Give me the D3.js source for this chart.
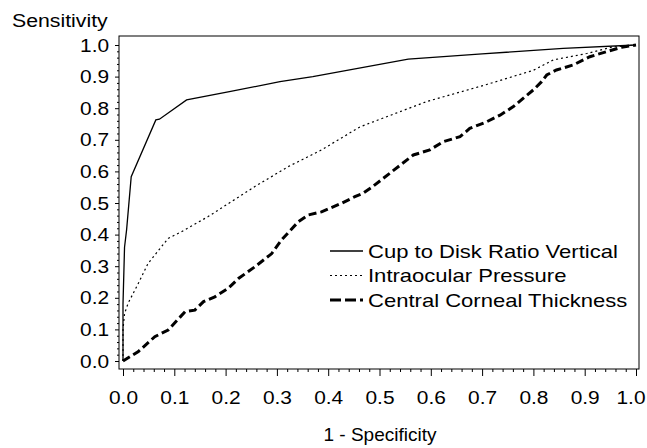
<!DOCTYPE html>
<html>
<head>
<meta charset="utf-8">
<script src="https://cdn.jsdelivr.net/npm/d3@7"></script>
<style>
  body { margin: 0; background: #fff; }
  text { font-family: "Liberation Sans", Arial, sans-serif; fill: #000; }
  .axis path { display: none; }
  .axis line { stroke: #000; stroke-width: 1; }
</style>
</head>
<body>
<div class="chart-wrapper"></div>
<script>
// ROC curves, values
const cdrFpr = [0, 0, 0.003, 0.007, 0.016, 0.064, 0.071, 0.124, 0.21, 0.306, 0.37, 0.556, 0.70, 0.858, 1.0]
const cdrTpr = [0, 0.18, 0.36, 0.415, 0.583, 0.763, 0.765, 0.826, 0.853, 0.884, 0.90, 0.955, 0.972, 0.989, 1.0]

const iopFpr = [0, 0, 0.003, 0.01, 0.03, 0.049, 0.088, 0.114, 0.166, 0.257, 0.322, 0.387, 0.462, 0.592, 0.709, 0.80, 0.839, 0.904, 0.955, 1.0]
const iopTpr = [0, 0.10, 0.15, 0.183, 0.246, 0.309, 0.388, 0.409, 0.457, 0.552, 0.615, 0.668, 0.741, 0.821, 0.875, 0.92, 0.953, 0.973, 0.994, 1.0]

const cctFpr = [0, 0.03, 0.062, 0.088, 0.121, 0.14, 0.157, 0.179, 0.205, 0.225, 0.257, 0.29, 0.309, 0.342, 0.361, 0.387, 0.426, 0.452, 0.468, 0.485, 0.52, 0.566, 0.598, 0.624, 0.657, 0.676, 0.709, 0.735, 0.761, 0.78, 0.80, 0.816, 0.826, 0.845, 0.878, 0.91, 0.943, 0.975, 1.0]
const cctTpr = [0, 0.03, 0.077, 0.098, 0.156, 0.161, 0.188, 0.203, 0.23, 0.261, 0.298, 0.34, 0.383, 0.441, 0.462, 0.472, 0.499, 0.52, 0.531, 0.55, 0.594, 0.652, 0.668, 0.694, 0.71, 0.736, 0.757, 0.778, 0.805, 0.831, 0.858, 0.884, 0.905, 0.921, 0.937, 0.963, 0.979, 0.994, 1.0]

const seriesNames = ['Cup to Disk Ratio Vertical', 'Intraocular Pressure', 'Central Corneal Thickness']
const majorTicks = [0, 0.1, 0.2, 0.3, 0.4, 0.5, 0.6, 0.7, 0.8, 0.9, 1.0]

const width = 647
const height = 448
const frame = {left: 119, right: 639, top: 36, bottom: 369}

let x = d3.scaleLinear().domain([0, 1]).range([123, 636])
let y = d3.scaleLinear().domain([0, 1]).range([361, 45])

let svg = d3.select('.chart-wrapper')
  .append('svg')
  .attr('width', width)
  .attr('height', height)

// frame
svg.append('rect')
  .attr('x', frame.left)
  .attr('y', frame.top)
  .attr('width', frame.right - frame.left)
  .attr('height', frame.bottom - frame.top)
  .attr('fill', 'none')
  .attr('stroke', '#000')
  .attr('stroke-width', 1)

const minorTicks = d3.range(0, 1.0001, 0.02).filter(v => Math.abs(v * 10 - Math.round(v * 10)) > 1e-6)
const fmt = d3.format('.1f')

// y axis
svg.append('g')
  .attr('class', 'y axis')
  .attr('transform', 'translate(' + frame.left + ',0)')
  .call(d3.axisLeft(y).tickValues(minorTicks).tickSize(2).tickFormat(''))

svg.append('g')
  .attr('class', 'y axis')
  .attr('transform', 'translate(' + frame.left + ',0)')
  .call(d3.axisLeft(y).tickValues(majorTicks).tickSize(4).tickPadding(5).tickFormat(fmt))
  .selectAll('text')
  .style('font-size', '19px')
  .attr('transform', 'scale(1.1,1)')

// x axis
svg.append('g')
  .attr('class', 'x axis')
  .attr('transform', 'translate(0,' + frame.bottom + ')')
  .call(d3.axisBottom(x).tickValues(minorTicks).tickSize(3).tickFormat(''))

svg.append('g')
  .attr('class', 'x axis')
  .attr('transform', 'translate(0,' + frame.bottom + ')')
  .call(d3.axisBottom(x).tickValues(majorTicks).tickSize(7).tickPadding(15).tickFormat(fmt))
  .selectAll('text')
  .style('font-size', '19px')
  .attr('x', d => d === 1 ? -5 : 0)
  .attr('transform', 'scale(1.1,1)')

svg.append('text')
  .attr('transform', 'translate(12,27) scale(1.12,1)')
  .style('font-size', '19px')
  .text('Sensitivity')

svg.append('text')
  .attr('x', 380)
  .attr('y', 441)
  .attr('text-anchor', 'middle')
  .style('font-size', '19px')
  .text('1 - Specificity')

// curves
const styles = [
  {w: 1.3, dash: null},
  {w: 1.2, dash: '2,3'},
  {w: 3, dash: '8,4'}
]

const curves = [
  cdrFpr.map((d, i) => [d, cdrTpr[i]]),
  iopFpr.map((d, i) => [d, iopTpr[i]]),
  cctFpr.map((d, i) => [d, cctTpr[i]])
]

let valueline = d3.line()
  .x(d => x(d[0]))
  .y(d => y(d[1]))

curves.forEach((c, i) => {
  svg.append('path')
    .datum(c)
    .attr('d', valueline)
    .attr('fill', 'none')
    .attr('stroke', '#000')
    .attr('stroke-width', styles[i].w)
    .attr('stroke-dasharray', styles[i].dash)
})

// legend
const legendY = [251, 275.5, 300]
const legendDash = ['none', '2,3', '11,4']
const legendW = [1.3, 1.2, 3]

seriesNames.forEach((name, i) => {
  svg.append('line')
    .attr('x1', 330)
    .attr('x2', 363)
    .attr('y1', legendY[i])
    .attr('y2', legendY[i])
    .attr('stroke', '#000')
    .attr('stroke-width', legendW[i])
    .attr('stroke-dasharray', legendDash[i])
  svg.append('text')
    .attr('transform', 'translate(368,' + (legendY[i] + 6.5) + ') scale(1.26,1)')
    .style('font-size', '17.5px')
    .text(name)
})
</script>
</body>
</html>
